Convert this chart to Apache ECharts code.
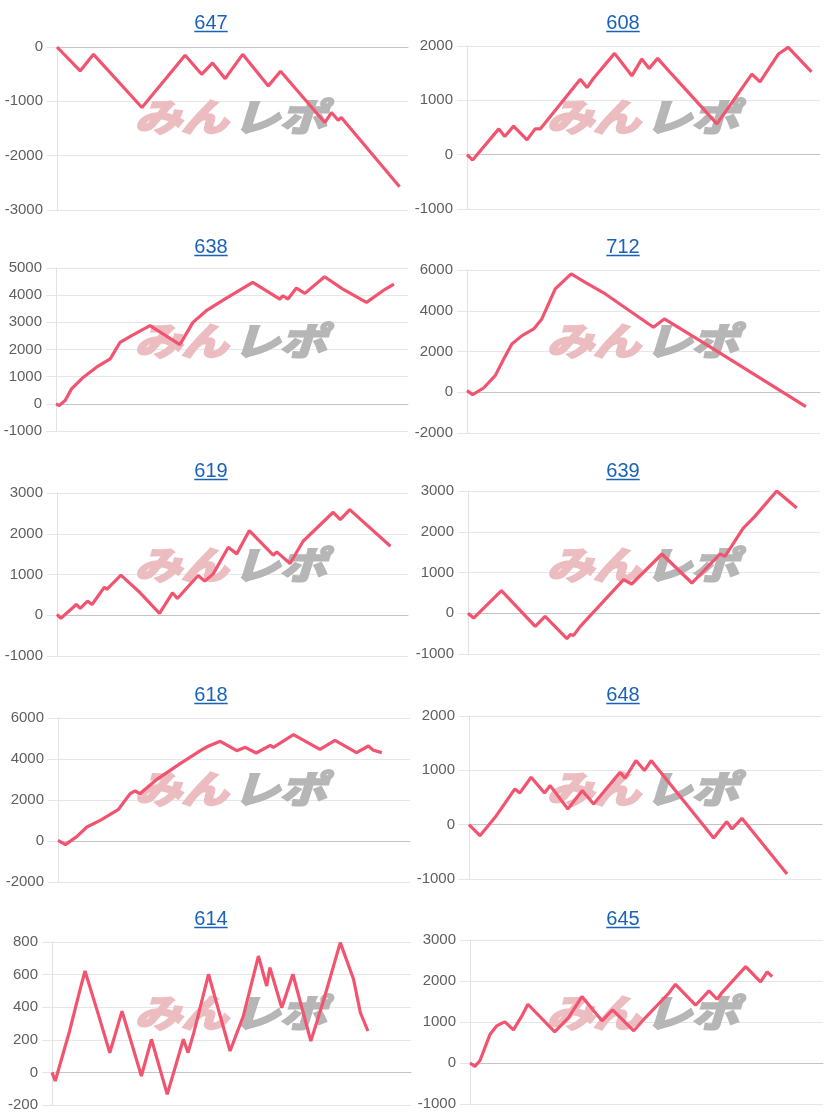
<!DOCTYPE html>
<html><head><meta charset="utf-8">
<script src="https://cdn.jsdelivr.net/npm/echarts@6/dist/echarts.min.js"></script>
<style>html,body{margin:0;padding:0;background:#fff}#c{width:824px;height:1120px}</style>
</head><body><div id="c"></div>
<script>
// ---- data (x = % of plot width, y = value) ----
const titles = ['647','608','638','712','619','639','618','648','614','645'];
const yMins  = [-3000,-1000,-1000,-2000,-1000,-1000,-2000,-1000,-200,-1000];
const yMaxs  = [0,2000,5000,6000,3000,3000,6000,2000,800,3000];
const ySteps = [1000,1000,1000,2000,1000,1000,2000,1000,200,1000];

const x647 = [0,6.6,10.4,24.2,36.5,41.2,44.3,47.9,52.9,60.2,63.7,76.3,78.2,80.1,81.0,97.6];
const y647 = [0,-441,-135,-1114,-153,-502,-294,-582,-135,-716,-447,-1390,-1206,-1347,-1298,-2572];

const x608 = [0,1.6,9.0,10.7,13.2,17.0,19.3,20.8,32.1,34.0,35.8,41.8,46.7,49.5,51.6,54.0,58.0,70.8,80.7,83.0,88.2,91.0,97.6];
const y608 = [0,-99,475,333,525,272,475,475,1389,1235,1401,1864,1451,1759,1586,1772,1481,568,1481,1340,1852,1975,1525];

const x638 = [0,0.9,2.6,4.4,7.8,11.5,15.4,18.2,21.5,26.7,35.2,38.9,42.7,48.4,55.9,63.6,64.5,65.9,68.3,70.7,76.3,81.5,88.2,92.9,96.0];
const y638 = [0,-61,122,551,980,1347,1653,2265,2510,2878,2180,3000,3429,3894,4470,3857,3980,3857,4262,4065,4677,4224,3735,4163,4408];

const x712 = [0,1.6,4.7,8.0,10.4,12.7,15.6,18.9,21.2,23.1,25.0,29.5,33.5,39.2,52.8,55.9,67.5,96.0];
const y712 = [78,-118,209,815,1633,2370,2779,3106,3597,4334,5070,5807,5398,4825,3188,3597,2370,-707];

const x619 = [0,1.1,5.5,6.6,8.7,10.0,13.5,14.2,18.2,23.7,29.2,32.9,34.3,40.2,42.1,44.5,48.8,51.2,54.8,61.6,62.6,66.4,70.1,78.7,80.7,83.4,95.0];
const y619 = [20,-78,265,167,347,265,690,633,984,551,45,551,412,976,837,1016,1669,1506,2078,1473,1555,1269,1816,2527,2347,2592,1694];

const x639 = [0,1.6,9.5,19.1,21.9,28.1,29.0,30.0,31.9,44.2,46.5,55.1,63.6,71.6,73.0,78.2,81.5,87.7,93.4];
const y639 = [0,-117,554,-321,-76,-624,-526,-542,-321,824,718,1454,742,1454,1396,2091,2377,3000,2582];

const x618 = [0,2.1,5.4,8.2,12.0,17.2,20.5,21.9,23.3,28.1,34.7,40.9,42.8,46.1,50.8,53.2,56.3,60.3,61.2,66.9,74.4,78.7,84.8,88.2,89.6,92.0];
const y618 = [33,-179,228,683,1008,1545,2309,2439,2309,3008,3772,4455,4634,4862,4407,4569,4293,4667,4569,5187,4472,4911,4309,4634,4423,4309];

const x648 = [0,3.1,7.4,13.0,14.4,17.6,21.4,23.0,28.0,32.1,35.3,42.8,44.2,47.3,49.7,51.6,69.3,73.0,74.5,77.3,90.1];
const y648 = [0,-203,135,658,584,873,584,719,289,627,381,965,854,1180,996,1180,-246,55,-80,117,-910];

const x614 = [0,0.9,4.9,7.7,9.2,12.9,16.1,19.5,24.9,27.7,32.1,36.6,37.9,39.5,43.6,49.6,53.3,57.5,59.8,60.7,64.0,67.1,72.1,75.6,80.3,84.0,85.9,88.0];
const y614 = [0,-53,254,499,622,356,121,376,-22,203,-135,203,121,244,602,131,346,714,530,643,397,602,192,438,796,571,366,254];

const x645 = [0,1.4,2.8,5.7,7.6,8.5,9.9,12.3,14.7,16.4,24.0,27.9,31.7,37.4,40.4,46.4,49.7,56.3,58.2,63.9,67.7,70.0,71.4,78.1,82.3,84.2,85.6];
const y645 = [0,-83,55,704,907,947,1003,808,1149,1433,760,1109,1620,1028,1296,785,1109,1701,1920,1409,1758,1555,1718,2351,1977,2222,2108];

const xsList = [x647,x608,x638,x712,x619,x639,x618,x648,x614,x645];
const ysList = [y647,y608,y638,y712,y619,y639,y618,y648,y614,y645];

// ---- layout (px): left, top, right, bottom of each plot ----
const boxes = [
  [57,47,408,210],[467,46,820,209],
  [56,268,408,431],[467,270,820,433],
  [57,493,408,656],[468,491,820,654],
  [58,718,410,882],[469,716,822,879],
  [52,942,411,1105],[470,940,823,1104]
];

const LINE = '#f2546f';
const TITLE = '#1a62b9';
const FONT = '"Liberation Sans", Arial, sans-serif';
const PINK = '#ecbdc0';
const GRAY = '#b6b6b6';

const ctx = document.createElement('canvas').getContext('2d');
ctx.font = '20px ' + FONT;

const grid=[], xAxis=[], yAxis=[], series=[], graphic=[];
for (let i=0;i<10;i++){
  const [L,T,R,B] = boxes[i];
  const col = i%2, row = Math.floor(i/2);
  const ox = col*412, oy = row*224;
  grid.push({left:L, top:T, width:R-L, height:B-T, containLabel:false});
  xAxis.push({gridIndex:i, type:'value', min:0, max:100,
    axisLine:{show:true, onZero:true, lineStyle:{color:'#c4c4c4', width:1}},
    axisTick:{show:false}, axisLabel:{show:false}, splitLine:{show:false}});
  yAxis.push({gridIndex:i, type:'value', min:yMins[i], max:yMaxs[i], interval:ySteps[i],
    axisLine:{show:true, lineStyle:{color:'#e2e2e2'}},
    axisTick:{show:true, length:10, lineStyle:{color:'#e6e6e6'}},
    axisLabel:{color:'#5f5f5f', fontSize:15, fontFamily:FONT, margin:14, formatter:v=>String(v)},
    splitLine:{show:true, lineStyle:{color:'#e6e6e6'}}});
  series.push({type:'line', xAxisIndex:i, yAxisIndex:i,
    data: xsList[i].map((x,k)=>[x, ysList[i][k]]),
    showSymbol:false, symbol:'none', lineStyle:{color:LINE, width:3.2}, itemStyle:{color:LINE},
    z:5, animation:false});
  // title + underline
  const cx = ox + 211, cy = oy + 23;
  const w = ctx.measureText(titles[i]).width;
  graphic.push({type:'text', x:cx, y:cy, z:10, style:{text:titles[i], fill:TITLE,
    font:'20px ' + FONT, textAlign:'center', textVerticalAlign:'middle'}});
  graphic.push({type:'line', z:10, shape:{x1:cx-w/2, y1:oy+31.5, x2:cx+w/2, y2:oy+31.5},
    style:{stroke:TITLE, lineWidth:1.5}});
  // watermark
  graphic.push({type:'text', x:ox+228, y:oy+117, scaleX:1.3, scaleY:1.05, z:1, silent:true,
    style:{text:'みん', fill:PINK, stroke:PINK, lineWidth:2.5,
      font:'italic bold 36px "Noto Sans CJK JP"', textAlign:'right', textVerticalAlign:'middle'}});
  graphic.push({type:'text', x:ox+233, y:oy+117, scaleX:1.3, scaleY:1.05, z:1, silent:true,
    style:{text:'レポ', fill:GRAY, stroke:GRAY, lineWidth:2.5,
      font:'italic bold 36px "Noto Sans CJK JP"', textAlign:'left', textVerticalAlign:'middle'}});
}

const chart = echarts.init(document.getElementById('c'));
chart.setOption({animation:false, backgroundColor:'#fff', grid, xAxis, yAxis, series, graphic});
</script>
</body></html>
